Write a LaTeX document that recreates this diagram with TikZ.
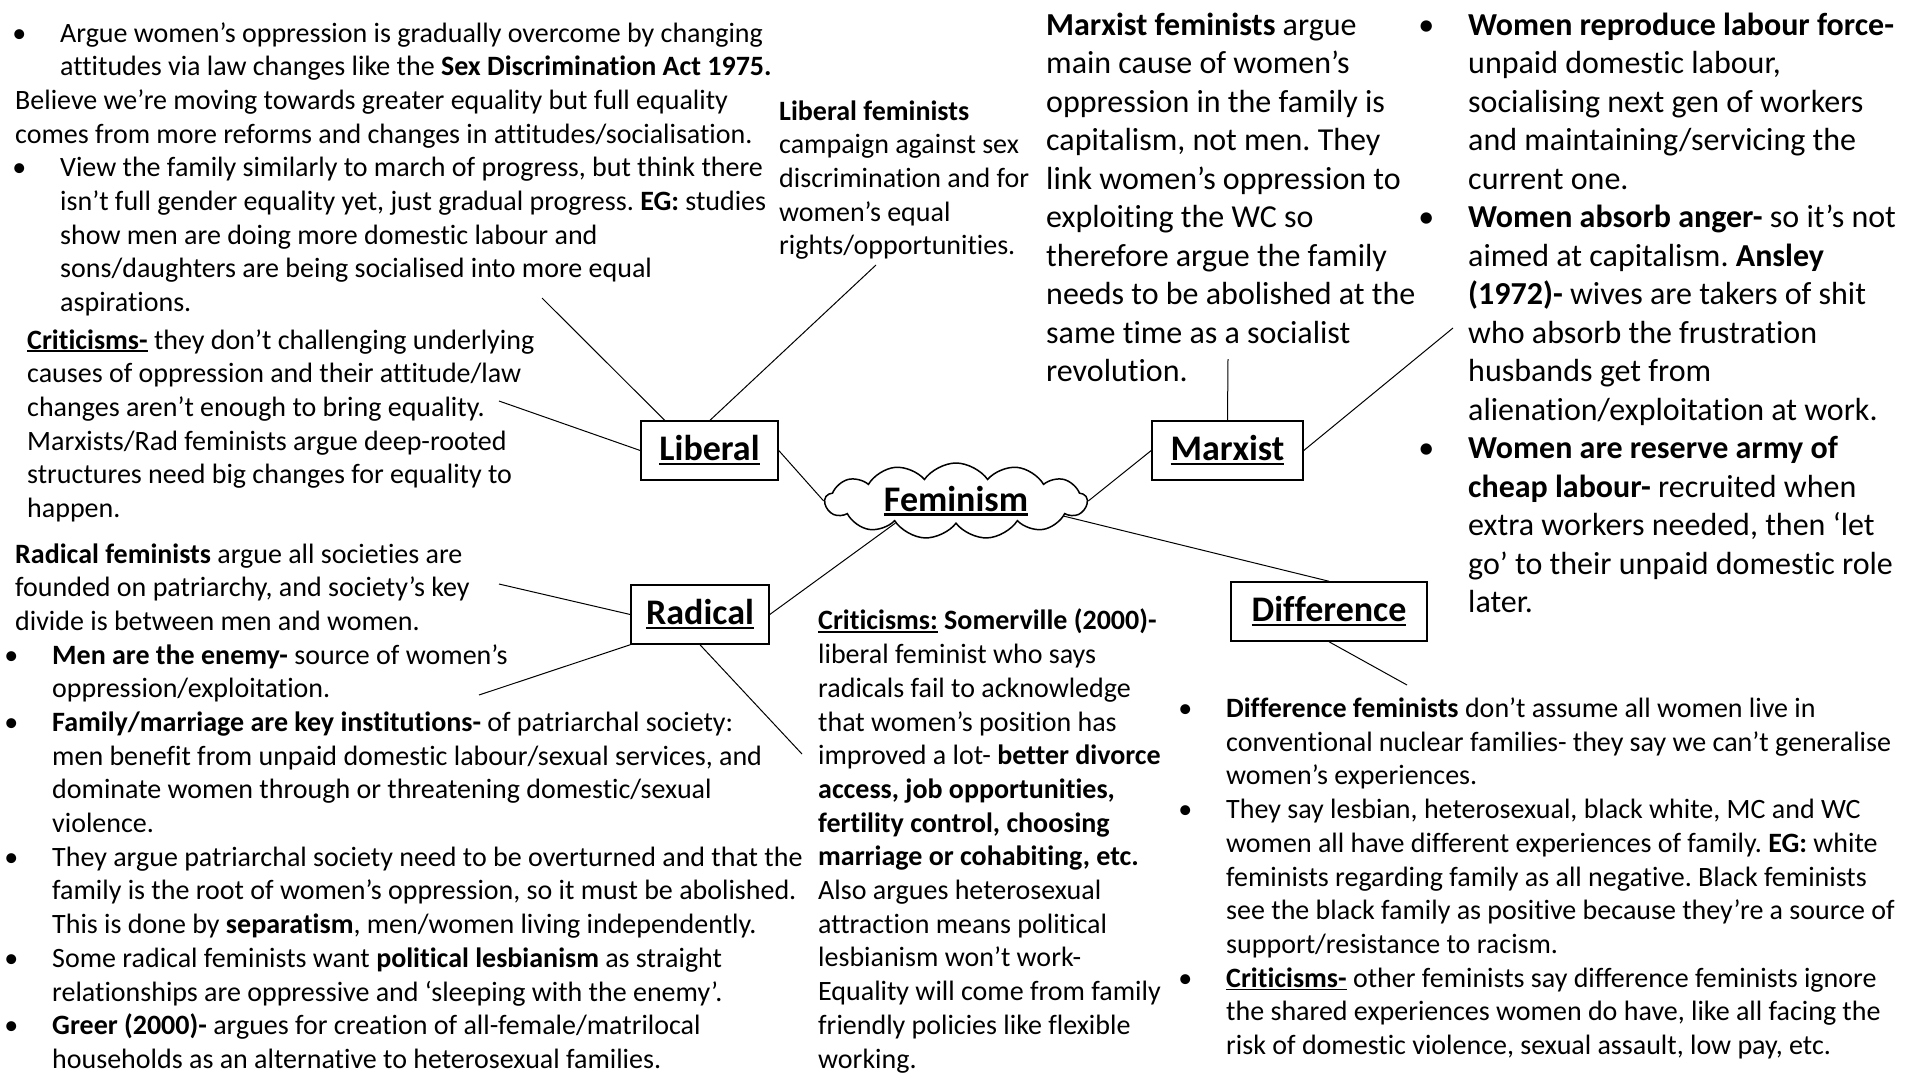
\documentclass[tikz,border=0pt]{standalone}
\usepackage{fontspec}
\setmainfont{Carlito}[Ligatures=NoCommon]
\usetikzlibrary{shapes.symbols}
\frenchspacing
\newcommand\bul{\llap{\textbullet\hspace{34pt}}}
\newcommand\ind{\hspace*{45pt}}
\newsavebox\ulbox
\newcommand\ul[1]{\sbox\ulbox{#1}\rlap{\rule[-0.12em]{\wd\ulbox}{0.07em}}\usebox\ulbox}
\newcommand\crit[1]{\ul{\textbf{#1}}}
\begin{document}
\begin{tikzpicture}[x=1pt,y=-1pt,
    txt/.style={anchor=base west,inner sep=0pt,align=left,font=\fontsize{28}{33.7}\selectfont},
    bigtxt/.style={txt,font=\fontsize{32}{38.5}\selectfont},
    box/.style={draw,line width=1.5pt,minimum height=59pt,inner sep=0pt,font=\fontsize{36}{40}\selectfont\bfseries},
    link/.style={line width=1pt}]
    \useasboundingbox (0,0) rectangle (1920,1080);
    % the five heads
    \node[box,minimum width=137pt] (lib) at (709.5,450.5) {\ul{Liberal}};
    \node[box,minimum width=151pt] (mar) at (1227.5,450.5) {\ul{Marxist}};
    \node[box,minimum width=138pt] (rad) at (700,614.5) {\ul{Radical}};
    \node[box,minimum width=196pt] (dif) at (1329,611.5) {\ul{Difference}};
    \node[cloud,draw,line width=1.5pt,fill=white,cloud puffs=13,cloud puff arc=110,
        cloud ignores aspect,minimum width=262pt,minimum height=76pt,inner sep=0pt,
        font=\fontsize{36}{40}\selectfont\bfseries] (fem) at (956,501) {\ul{Feminism}};
    % liberal (nodes sit on their last baseline)
    \node[txt] (libtxt) at (15,311.6) {\ind\bul Argue women’s oppression is gradually overcome by changing\\
        \ind attitudes via law changes like the \textbf{Sex Discrimination Act 1975.}\\
        Believe we’re moving towards greater equality but full equality\\
        comes from more reforms and changes in attitudes/socialisation.\\
        \ind\bul View the family similarly to march of progress, but think there\\
        \ind isn’t full gender equality yet, just gradual progress. \textbf{EG:} studies\\
        \ind show men are doing more domestic labour and\\
        \ind sons/daughters are being socialised into more equal\\
        \ind aspirations.};
    \node[txt] (libcamp) at (779,254.8) {\textbf{Liberal feminists}\\
        campaign against sex\\
        discrimination and for\\
        women’s equal\\
        rights/opportunities.};
    \node[txt] (libcrit) at (27,517.5) {\crit{Criticisms-} they don’t challenging underlying\\
        causes of oppression and their attitude/law\\
        changes aren’t enough to bring equality.\\
        Marxists/Rad feminists argue deep-rooted\\
        structures need big changes for equality to\\
        happen.};
    % marxist
    \node[bigtxt] (martxt) at (1046,381.5) {\textbf{Marxist feminists} argue\\
        main cause of women’s\\
        oppression in the family is\\
        capitalism, not men. They\\
        link women’s oppression to\\
        exploiting the WC so\\
        therefore argue the family\\
        needs to be abolished at the\\
        same time as a socialist\\
        revolution.};
    \node[bigtxt] (marpts) at (1468,612.5) {\bul\textbf{Women reproduce labour force-}\\
        unpaid domestic labour,\\
        socialising next gen of workers\\
        and maintaining/servicing the\\
        current one.\\
        \bul\textbf{Women absorb anger-} so it’s not\\
        aimed at capitalism. \textbf{Ansley}\\
        \textbf{(1972)-} wives are takers of shit\\
        who absorb the frustration\\
        husbands get from\\
        alienation/exploitation at work.\\
        \bul\textbf{Women are reserve army of}\\
        \textbf{cheap labour-} recruited when\\
        extra workers needed, then ‘let\\
        go’ to their unpaid domestic role\\
        later.};
    % radical
    \node[txt] (radtxt) at (15,630.4) {\textbf{Radical feminists} argue all societies are\\
        founded on patriarchy, and society’s key\\
        divide is between men and women.};
    \node[txt] (radpts) at (52,1068.4) {\bul\textbf{Men are the enemy-} source of women’s\\
        oppression/exploitation.\\
        \bul\textbf{Family/marriage are key institutions-} of patriarchal society:\\
        men benefit from unpaid domestic labour/sexual services, and\\
        dominate women through or threatening domestic/sexual\\
        violence.\\
        \bul They argue patriarchal society need to be overturned and that the\\
        family is the root of women’s oppression, so it must be abolished.\\
        This is done by \textbf{separatism}, men/women living independently.\\
        \bul Some radical feminists want \textbf{political lesbianism} as straight\\
        relationships are oppressive and ‘sleeping with the enemy’.\\
        \bul\textbf{Greer (2000)-} argues for creation of all-female/matrilocal\\
        households as an alternative to heterosexual families.};
    \node[txt] (radcrit) at (818,1068) {\crit{Criticisms:}\textbf{ Somerville (2000)-}\\
        liberal feminist who says\\
        radicals fail to acknowledge\\
        that women’s position has\\
        improved a lot- \textbf{better divorce}\\
        \textbf{access, job opportunities,}\\
        \textbf{fertility control, choosing}\\
        \textbf{marriage or cohabiting, etc.}\\
        Also argues heterosexual\\
        attraction means political\\
        lesbianism won’t work-\\
        Equality will come from family\\
        friendly policies like flexible\\
        working.};
    % difference
    \node[txt] (diftxt) at (1226,1054.5) {\bul\textbf{Difference feminists} don’t assume all women live in\\
        conventional nuclear families- they say we can’t generalise\\
        women’s experiences.\\
        \bul They say lesbian, heterosexual, black white, MC and WC\\
        women all have different experiences of family. \textbf{EG:} white\\
        feminists regarding family as all negative. Black feminists\\
        see the black family as positive because they’re a source of\\
        support/resistance to racism.\\
        \bul\crit{Criticisms-} other feminists say difference feminists ignore\\
        the shared experiences women do have, like all facing the\\
        risk of domestic violence, sexual assault, low pay, etc.};
    % loose ends
    \coordinate (la) at (542,298);
    \coordinate (lb) at (876,265);
    \coordinate (lc) at (499,401);
    \coordinate (ma) at (1228,359);
    \coordinate (mb) at (1453,328);
    \coordinate (ra) at (499,584);
    \coordinate (rb) at (479,695);
    \coordinate (rc) at (802,754);
    \coordinate (da) at (1407,685);
    \draw[link] (lib.146) -- (la);
    \draw[link] (lib.89) -- (lb);
    \draw[link] (lib.west) -- (lc);
    \draw[link] (lib.east) -- (fem.west);
    \draw[link] (mar.north) -- (ma);
    \draw[link] (mar.east) -- (mb);
    \draw[link] (mar.west) -- (fem.east);
    \draw[link] (fem.-8) -- (dif.north);
    \draw[link] (dif.south) -- (da);
    \draw[link] (rad.east) -- (fem.200);
    \draw[link] (rad.west) -- (ra);
    \draw[link] (rad.south west) -- (rb);
    \draw[link] (rad.south) -- (rc);
\end{tikzpicture}
\end{document}
